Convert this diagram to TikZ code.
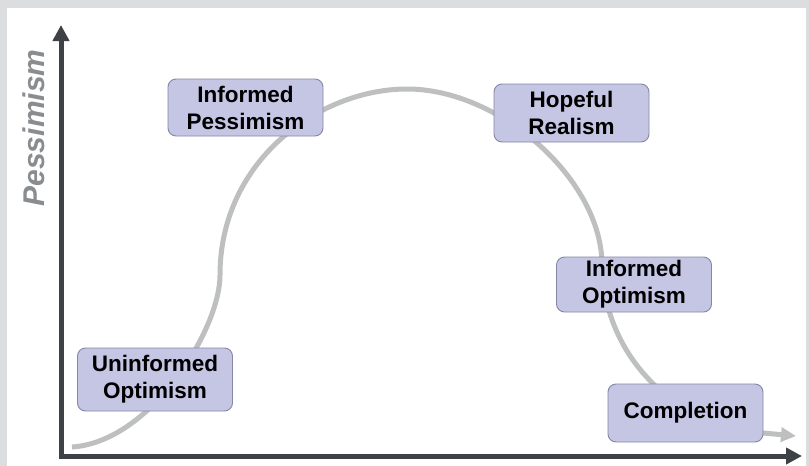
\documentclass[tikz,border=0pt]{standalone}
\usepackage{fontspec}
\setmainfont{Liberation Sans}
\usetikzlibrary{arrows.meta}

\definecolor{pagebg}{HTML}{DCDDDF}
\definecolor{axisdark}{HTML}{3E4145}
\definecolor{curvegray}{HTML}{BDBFC0}
\definecolor{boxfill}{HTML}{C5C5E4}
\definecolor{boxline}{HTML}{8686A6}
\definecolor{labelgray}{HTML}{8A8D90}

\begin{document}
\begin{tikzpicture}[x=1pt,y=-1pt,
  stage/.style={draw=boxline, line width=0.9pt, fill=boxfill, rounded corners=8pt,
    minimum width=155pt, align=center, inner sep=0pt,
    font=\fontsize{22.5}{27}\selectfont\bfseries},
  axis/.style={draw=axisdark, line width=5pt, line cap=rect,
    -{Triangle[length=16pt,width=16pt]}},
  journey/.style={draw=curvegray, line width=5pt,
    -{Triangle[length=15pt,width=14pt]}}]

% frame
\fill[pagebg] (0,0) rectangle (809,466);
\fill[white] (7,8) rectangle (806,466);
\useasboundingbox (0,0) rectangle (809,466);

% key points
\coordinate (origin) at (61,456);
\coordinate (ytip) at (61,25);
\coordinate (xtip) at (802,456);
\coordinate (cstart) at (72,447);
\coordinate (cend) at (796,436);

% the emotional curve
\draw[journey] (cstart) .. controls (150,442) and (220,330) .. (220,275)
  .. controls (220,160) and (320,89) .. (407,89)
  .. controls (500,89) and (602,180) .. (602,265)
  .. controls (604,360) and (680,428) .. (763,433) -- (cend);

% stages
\node[stage, minimum height=63pt] (uo) at (155,379.5) {Uninformed\\Optimism};
\node[stage, minimum height=57pt] (ip) at (245.5,107.5) {Informed\\Pessimism};
\node[stage, minimum height=58pt] (hr) at (571.5,113) {Hopeful\\Realism};
\node[stage, minimum height=55pt] (io) at (634,284.5) {Informed\\Optimism};
\node[stage, minimum height=58pt] (co) at (685.5,413) {Completion};

% axes
\draw[axis] (origin) -- (ytip);
\draw[axis] (origin) -- (xtip);

% axis label
\node[rotate=90, anchor=base, text=labelgray,
  font=\fontsize{30}{36}\selectfont\bfseries\itshape] (ylabel) at (45,128) {Pessimism};
\end{tikzpicture}
\end{document}
